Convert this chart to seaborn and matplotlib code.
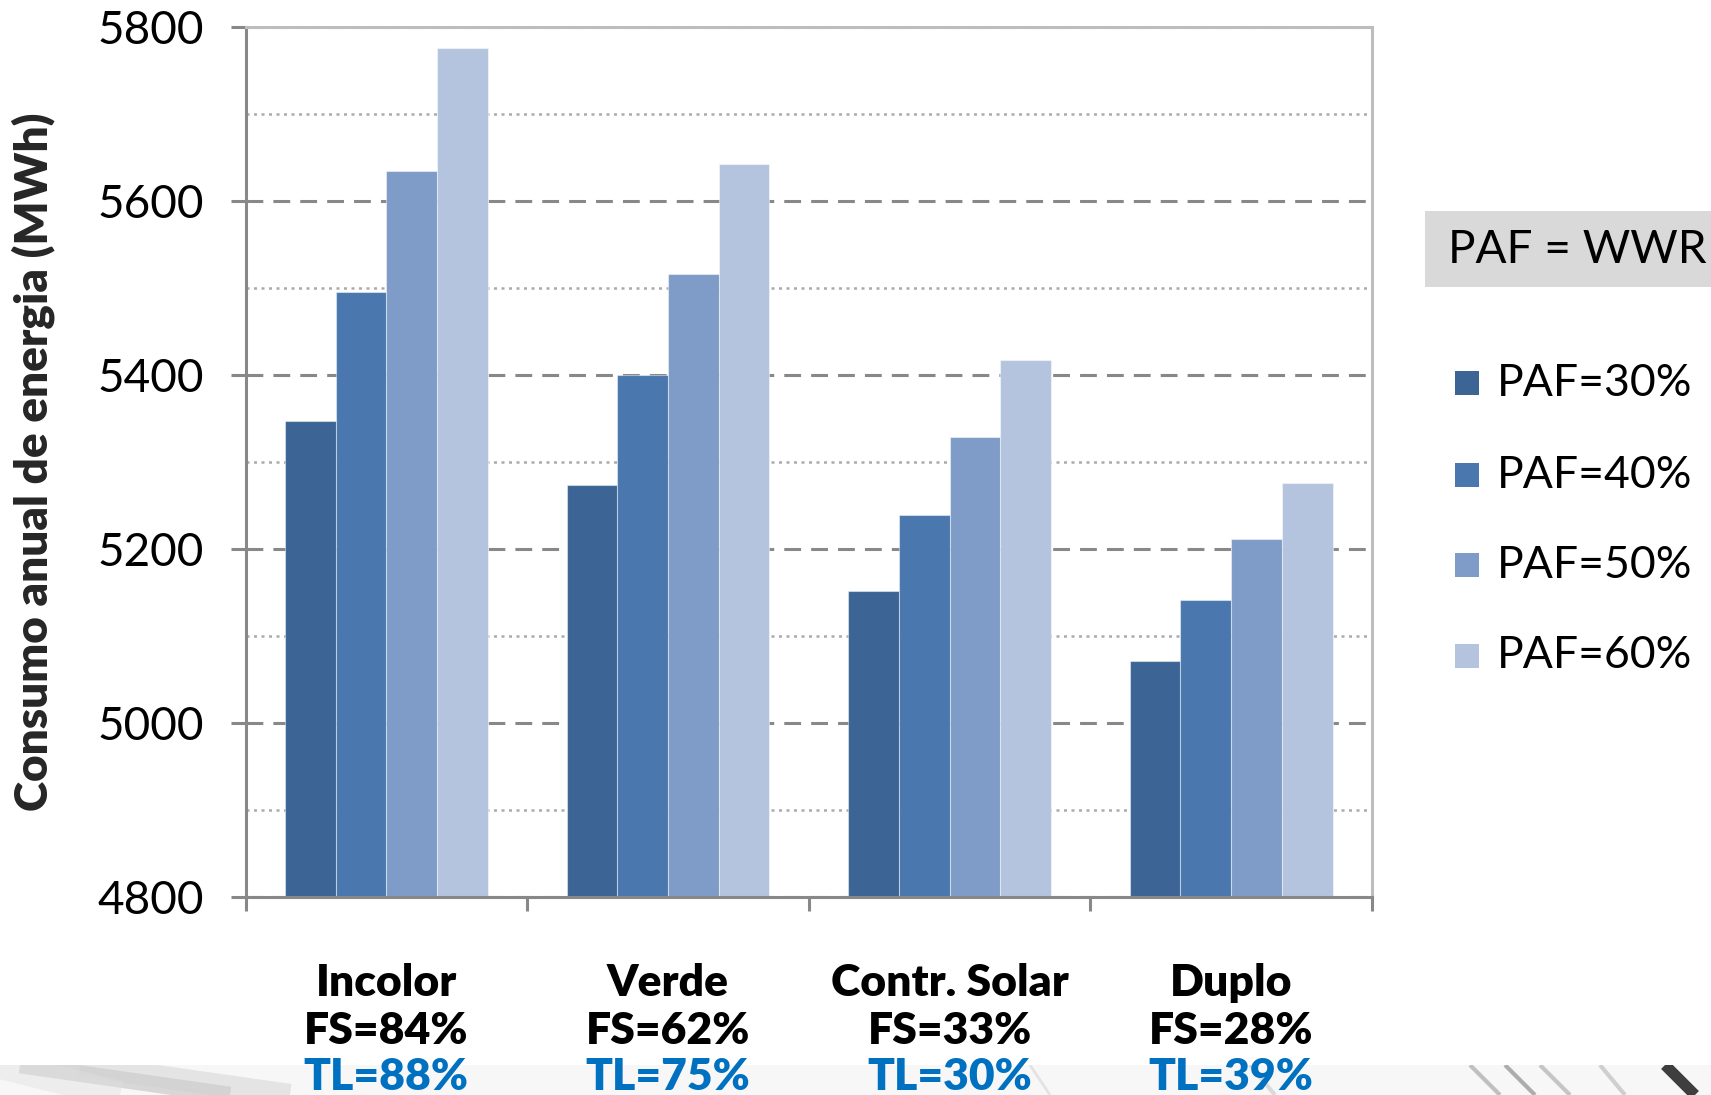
import matplotlib
matplotlib.use("Agg")
import matplotlib.pyplot as plt
from matplotlib.patches import Rectangle
from matplotlib import transforms
import seaborn as sns
import pandas as pd

# --- data -------------------------------------------------------------
vidros = ["Incolor", "Verde", "Contr. Solar", "Duplo"]
fs_labels = ["FS=84%", "FS=62%", "FS=33%", "FS=28%"]
tl_labels = ["TL=88%", "TL=75%", "TL=30%", "TL=39%"]
paf_labels = ["PAF=30%", "PAF=40%", "PAF=50%", "PAF=60%"]

paf30 = [5347, 5273, 5152, 5071]
paf40 = [5495, 5400, 5239, 5141]
paf50 = [5634, 5516, 5329, 5211]
paf60 = [5776, 5642, 5417, 5276]

cores = ["#3c6595", "#4977ae", "#7e9cc7", "#b5c4de"]

rows = []
for paf, serie in zip(paf_labels, [paf30, paf40, paf50, paf60]):
    for v, val in zip(vidros, serie):
        rows.append({"vidro": v, "paf": paf, "consumo": val})
df = pd.DataFrame(rows)

# --- figure -----------------------------------------------------------
sns.set_theme(style="white")
plt.rcParams["font.family"] = ["Lato", "DejaVu Sans"]

W, H = 1711, 1095
fig = plt.figure(figsize=(W / 100, H / 100), dpi=100)
fig.patch.set_facecolor("white")

# soft photographic strip along the bottom edge
bg = fig.add_axes([0, 0, 1, 30 / H], zorder=-5)
bg.set_xlim(0, W)
bg.set_ylim(0, 30)
bg.axis("off")
bg.axhspan(0, 30, color="#f7f7f7", lw=0)
for x0, x1, c, lw, a in [
    (20, 230, "#b0b0b0", 12, 0.45),
    (80, 290, "#cfcfcf", 16, 0.45),
    (0, 120, "#e0e0e0", 20, 0.4),
    (1030, 1050, "#d6d6d6", 2, 0.6),
    (1250, 1275, "#c8c8c8", 3, 0.6),
    (1470, 1500, "#9c9c9c", 3, 0.6),
    (1505, 1535, "#7d7d7d", 3, 0.6),
    (1540, 1570, "#a5a5a5", 3, 0.6),
    (1600, 1625, "#b5b5b5", 3, 0.6),
    (1665, 1695, "#1e1e1e", 8, 0.85),
]:
    bg.plot([x0, x1], [30, 0], color=c, lw=lw, alpha=a, solid_capstyle="butt")

left, right, top, bottom = 245.5, 1372, 27, 897
ax = fig.add_axes([left / W, 1 - bottom / H, (right - left) / W, (bottom - top) / H])

sns.barplot(
    data=df, x="vidro", y="consumo", hue="paf", order=vidros, hue_order=paf_labels,
    palette=cores, width=0.72, gap=0, saturation=1, ax=ax, legend=False,
    edgecolor=(1, 1, 1, 0.45), linewidth=0.8, errorbar=None,
)

ax.set_ylim(4800, 5800)
ax.set_xlim(-0.5, 3.5)
ax.set_yticks(range(4800, 5801, 200))
ax.set_yticks(range(4900, 5800, 200), minor=True)
ax.set_xticks([-0.5, 0.5, 1.5, 2.5, 3.5])
ax.set_xticklabels([])
ax.set_xlabel("")
ax.set_ylabel("Consumo anual de energia (MWh)", fontsize=33, fontweight="heavy",
              va="center", ha="center")
ax.yaxis.set_label_coords((33 - left) / (right - left), 0.5)

ax.set_axisbelow(True)
ax.yaxis.grid(True, which="major", color="#888888", lw=2.2, ls=(0, (5.5, 3.3)))
ax.yaxis.grid(True, which="minor", color="#ababab", lw=1.8, ls=(0, (1.2, 1.8)))
ax.xaxis.grid(False)

for s in ["left", "bottom"]:
    ax.spines[s].set_color("#888888")
    ax.spines[s].set_linewidth(2.2)
for s in ["top", "right"]:
    ax.spines[s].set_color("#bdbdbd")
    ax.spines[s].set_linewidth(2.2)

ax.tick_params(axis="y", which="major", direction="out", length=11, width=2.2,
               color="#888888", labelsize=33, pad=19, left=True)
ax.tick_params(axis="y", which="minor", length=0)
ax.tick_params(axis="x", which="major", direction="out", length=10, width=2.2,
               color="#888888", bottom=True)
for t in ax.get_yticklabels():
    t.set_color("black")

# category labels below the axis
trans = transforms.blended_transform_factory(ax.transData, fig.transFigure)
for i, (v, fs, tl) in enumerate(zip(vidros, fs_labels, tl_labels)):
    ax.text(i, 1 - 983 / H, v, transform=trans, ha="center", va="center",
            fontsize=32, fontweight="heavy", color="black")
    ax.text(i, 1 - 1031 / H, fs, transform=trans, ha="center", va="center",
            fontsize=32, fontweight="heavy", color="black")
    ax.text(i, 1 - 1077 / H, tl, transform=trans, ha="center", va="center",
            fontsize=32, fontweight="heavy", color="#0070c0")

# legend header
fig.patches.append(Rectangle((1425 / W, 1 - 287 / H), (W - 1425) / W, 76 / H,
                             transform=fig.transFigure, facecolor="#d9d9d9",
                             edgecolor="none", zorder=1))
fig.text(1448 / W, 1 - 250 / H, "PAF = WWR", fontsize=33, va="center", ha="left",
         color="black", zorder=2)

# legend entries
ys = [383, 475, 565, 656]
for lab, c, y in zip(paf_labels, cores, ys):
    fig.patches.append(Rectangle((1455 / W, 1 - (y + 12) / H), 24 / W, 24 / H,
                                 transform=fig.transFigure, facecolor=c,
                                 edgecolor="none"))
    fig.text(1497 / W, 1 - y / H, lab, fontsize=32, va="center", ha="left",
             color="black")

fig.savefig("out.png", dpi=100)
